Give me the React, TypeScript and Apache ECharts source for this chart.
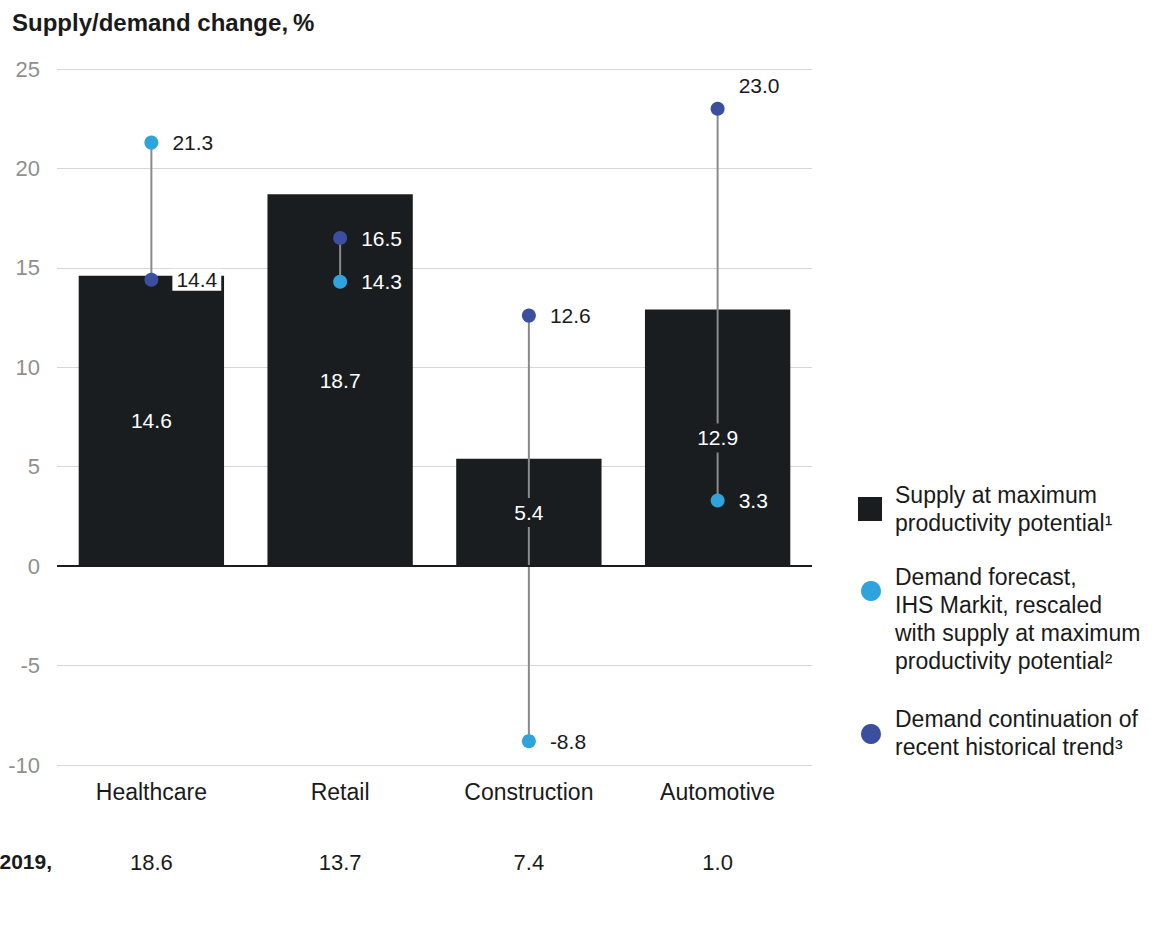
import React, { useEffect, useRef } from "react";
import * as echarts from "echarts";

const categories = ["Healthcare", "Retail", "Construction", "Automotive"];
const supplyMax = [14.6, 18.7, 5.4, 12.9];
const demandForecast = [21.3, 14.3, -8.8, 3.3];
const demandTrend = [14.4, 16.5, 12.6, 23.0];
const employment2019 = [18.6, 13.7, 7.4, 1.0];
const yTicks = { min: -10, max: 25, interval: 5 };

const FONT = "Liberation Sans, Arial, sans-serif";
const BAR = "#1a1d20";
const LIGHT = "#2fa3dc";
const DARK = "#3c4f9e";
const TEXT = "#1a1a1a";

function dotLabel(v: number, i: number) {
  const s = supplyMax[i];
  const inside = v > 0 && v < s;
  const nearTop = inside && s - v < 1;
  if (nearTop) {
    return { color: TEXT, backgroundColor: "#fff", padding: [1, 4, 0, 4] };
  }
  if (v > yTicks.max - 3) {
    return { color: TEXT, offset: [0, -23] };
  }
  return { color: inside ? "#fff" : TEXT };
}

export default function App() {
  const ref = useRef<HTMLDivElement>(null);
  useEffect(() => {
    const chart = echarts.init(ref.current!, null, { renderer: "svg" });
    const dotSeries = (name: string, vals: number[], color: string) => ({
      name,
      type: "scatter",
      symbol: "circle",
      symbolSize: 14,
      z: 5,
      itemStyle: { color, opacity: 1 },
      data: vals.map((v, i) => ({
        value: [i, v],
        label: dotLabel(v, i),
      })),
      label: {
        show: true,
        position: "right",
        distance: 14,
        fontSize: 21,
        fontFamily: FONT,
        formatter: (p: any) => p.value[1].toFixed(1),
      },
    });
    const legendText = {
      fontSize: 23,
      lineHeight: 28,
      fontFamily: FONT,
      fill: TEXT,
    };
    chart.setOption({
      animation: false,
      title: {
        left: 7,
        top: 5,
        text: "{b|Supply/demand change,} {n|%}",
        textStyle: {
          rich: {
            b: { fontSize: 24, fontWeight: "bold", fontFamily: FONT, color: TEXT },
            n: { fontSize: 24, fontFamily: FONT, color: TEXT },
          },
        },
      },
      grid: { left: 57, right: 352, top: 69, bottom: 173 },
      xAxis: [
        {
          type: "category",
          data: categories,
          axisLine: { show: false, onZero: false },
          axisTick: { show: false },
          axisLabel: { fontSize: 23, fontFamily: FONT, color: TEXT, margin: 15 },
        },
        {
          type: "category",
          position: "bottom",
          offset: 70,
          data: employment2019.map((v) => v.toFixed(1)),
          axisLine: { show: false },
          axisTick: { show: false },
          axisLabel: { fontSize: 22, fontFamily: FONT, color: TEXT, margin: 16 },
        },
      ],
      yAxis: {
        type: "value",
        min: yTicks.min,
        max: yTicks.max,
        interval: yTicks.interval,
        axisLine: { show: false },
        axisTick: { show: false },
        splitLine: { lineStyle: { color: "#d6d6d6", width: 1 } },
        axisLabel: { fontSize: 22, fontFamily: FONT, color: "#8f8f8f", margin: 17 },
      },
      series: [
        {
          name: "Supply at maximum productivity potential",
          type: "bar",
          data: supplyMax,
          barCategoryGap: "23%",
          itemStyle: { color: BAR },
          z: 2,
          markLine: {
            silent: true,
            symbol: "none",
            label: { show: false },
            lineStyle: { color: BAR, width: 2, type: "solid" },
            data: [{ yAxis: 0 }],
          },
        },
        {
          type: "custom",
          z: 3,
          data: categories.map((_, i) => [i, demandForecast[i], demandTrend[i]]),
          renderItem: (params: any, api: any) => {
            const a = api.coord([api.value(0), api.value(1)]);
            const b = api.coord([api.value(0), api.value(2)]);
            return {
              type: "line",
              shape: { x1: a[0], y1: a[1], x2: b[0], y2: b[1] },
              style: { stroke: "#8a8a8a", lineWidth: 2 },
            };
          },
        },
        {
          type: "scatter",
          symbolSize: 0,
          z: 4,
          itemStyle: { opacity: 1 },
          data: supplyMax.map((v, i) => [i, v / 2, v]),
          label: {
            show: true,
            position: "inside",
            color: "#ffffff",
            fontSize: 21,
            fontFamily: FONT,
            backgroundColor: BAR,
            padding: [4, 2],
            formatter: (p: any) => p.value[2].toFixed(1),
          },
        },
        dotSeries("Demand forecast", demandForecast, LIGHT),
        dotSeries("Demand trend", demandTrend, DARK),
      ],
      graphic: [
        {
          type: "text",
          right: 1164 - 52,
          top: 851,
          style: { text: "2019,", fontSize: 21, fontWeight: "bold", fontFamily: FONT, fill: TEXT },
        },
        { type: "rect", shape: { x: 858, y: 497, width: 24, height: 24 }, style: { fill: BAR } },
        {
          type: "text",
          left: 895,
          top: 481,
          style: { ...legendText, text: "Supply at maximum\nproductivity potential¹" },
        },
        { type: "circle", shape: { cx: 871, cy: 591, r: 10 }, style: { fill: LIGHT } },
        {
          type: "text",
          left: 895,
          top: 563,
          style: {
            ...legendText,
            text: "Demand forecast,\nIHS Markit, rescaled\nwith supply at maximum\nproductivity potential²",
          },
        },
        { type: "circle", shape: { cx: 871, cy: 734, r: 10 }, style: { fill: DARK } },
        {
          type: "text",
          left: 895,
          top: 705,
          style: { ...legendText, text: "Demand continuation of\nrecent historical trend³" },
        },
      ],
    });
    return () => chart.dispose();
  }, []);
  return (
    <div
      ref={ref}
      style={{ position: "absolute", left: 0, top: 0, width: 1164, height: 938, background: "#fff" }}
    />
  );
}
